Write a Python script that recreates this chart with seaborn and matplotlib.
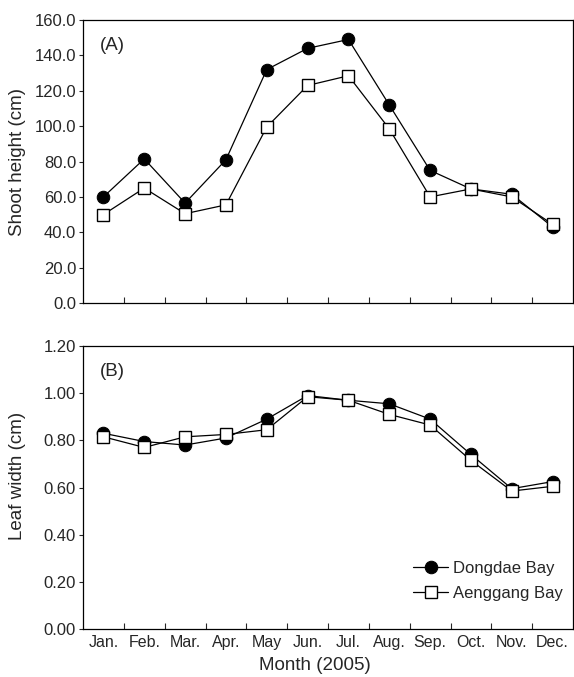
import matplotlib
matplotlib.use("Agg")
import matplotlib.pyplot as plt
import seaborn as sns
import pandas as pd
import numpy as np

months = ["Jan.", "Feb.", "Mar.", "Apr.", "May", "Jun.", "Jul.", "Aug.", "Sep.", "Oct.", "Nov.", "Dec."]
shoot_dongdae = [60, 81.5, 56.5, 81, 132, 144, 149, 112, 75, 64.5, 61.5, 43]
shoot_aenggang = [50, 65, 50.5, 55.5, 99.5, 123, 128.5, 98.5, 60, 64.5, 60, 44.5]
leaf_dongdae = [0.83, 0.795, 0.78, 0.81, 0.89, 0.99, 0.97, 0.955, 0.89, 0.74, 0.595, 0.625]
leaf_aenggang = [0.815, 0.77, 0.815, 0.825, 0.845, 0.985, 0.97, 0.91, 0.865, 0.715, 0.585, 0.605]
series_names = ["Dongdae Bay", "Aenggang Bay"]

sns.set_style("ticks")
plt.rcParams['font.family'] = ['Liberation Sans', 'DejaVu Sans']

fig = plt.figure(figsize=(5.74, 6.77), dpi=100)
axA = fig.add_axes([0.1446, 0.5524, 0.8537, 0.418])
axB = fig.add_axes([0.1446, 0.0709, 0.8537, 0.418])

x = np.arange(1, 13)

def draw(ax, d, a):
    sns.lineplot(x=x, y=d, ax=ax, color="black", lw=0.9, marker="o", markersize=9,
                 markerfacecolor="black", markeredgecolor="black", label=series_names[0], zorder=3)
    sns.lineplot(x=x, y=a, ax=ax, color="black", lw=0.9, marker="s", markersize=9,
                 markerfacecolor="white", markeredgecolor="black", markeredgewidth=1.0,
                 label=series_names[1], zorder=4)
    ax.set_xlim(0.5, 12.5)
    ax.set_xticks(x)
    ax.set_xticks(np.arange(1.5, 12.5, 1), minor=True)
    ax.tick_params(axis="x", which="major", length=0)
    ax.tick_params(axis="x", which="minor", direction="in", length=4, width=0.8)
    ax.tick_params(axis="y", which="major", direction="out", length=3, width=0.8, labelsize=12, pad=2)
    for s in ax.spines.values():
        s.set_linewidth(0.9)
        s.set_color("black")

draw(axA, shoot_dongdae, shoot_aenggang)
axA.set_ylim(0, 160)
axA.set_yticks(np.arange(0, 161, 20))
axA.set_yticklabels([f"{v:.1f}" for v in np.arange(0, 161, 20)])
axA.set_xticklabels([])
axA.set_ylabel("Shoot height (cm)", fontsize=13.5)
axA.yaxis.set_label_coords(-0.117, 0.5)
axA.text(0.035, 0.94, "(A)", transform=axA.transAxes, fontsize=13.5, va="top")
axA.get_legend().remove()

draw(axB, leaf_dongdae, leaf_aenggang)
axB.set_ylim(0, 1.2)
axB.set_yticks(np.arange(0, 1.21, 0.2))
axB.set_yticklabels([f"{v:.2f}" for v in np.arange(0, 1.21, 0.2)])
axB.set_xticklabels(months, fontsize=11.5)
axB.tick_params(axis="x", which="major", pad=4)
axB.set_ylabel("Leaf width (cm)", fontsize=13.5)
axB.yaxis.set_label_coords(-0.117, 0.54)
axB.set_xlabel("Month (2005)", fontsize=13.5)
axB.xaxis.set_label_coords(0.473, -0.1)
axB.text(0.035, 0.94, "(B)", transform=axB.transAxes, fontsize=13.5, va="top")
axB.legend(loc="lower right", bbox_to_anchor=(1.0, 0.065), frameon=False, fontsize=12,
           handlelength=2.1, handletextpad=0.3, borderaxespad=0.2, labelspacing=0.6)

fig.savefig("out.png", dpi=100)
